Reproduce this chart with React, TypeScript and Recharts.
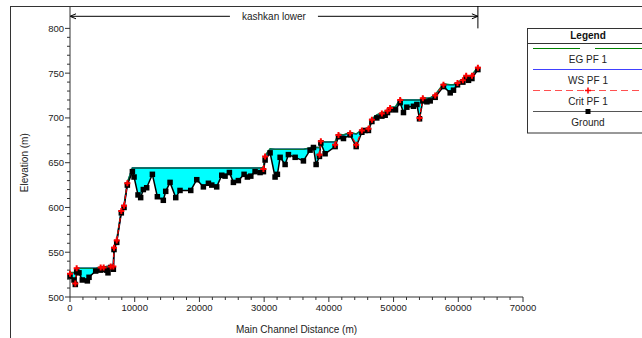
import React from 'react';
import {
  ComposedChart, Area, Line, XAxis, YAxis, ReferenceLine,
} from 'recharts';

// river stations (main channel distance, m)
const distance = [
  0, 620, 820, 1030, 1390, 1900, 2680, 2940, 3970, 4740,
  5200, 5670, 5870, 6290, 6700, 6800, 7220, 7930, 8350, 8860,
  9640, 9900, 10510, 10920, 11330, 11850, 12730, 13500, 14420, 14790,
  15460, 16340, 17000, 18660, 19590, 20610, 21390, 21910, 22670, 23450,
  23960, 24630, 25250, 26020, 26900, 27410, 27940, 28600, 29370, 29890,
  30150, 30920, 31690, 32050, 32470, 33240, 33750, 34790, 36070, 37100,
  37620, 38030, 38550, 38760, 39420, 40970, 41490, 42260, 43290, 44220,
  45100, 45610, 46120, 46650, 47410, 48190, 48700, 49060, 49470, 50300,
  51020, 51530, 52050, 53070, 53600, 54010, 54520, 55150, 55660, 56430,
  57710, 58750, 59260, 59880, 60710, 61220, 61580, 62110, 63030,
];

const ground = [
  523, 519, 514, 528, 527, 519, 518, 522, 529, 530,
  531, 530, 527, 533, 531, 553, 561, 594, 600, 625,
  640, 634, 614, 611, 620, 622, 637, 612, 608, 618,
  628, 611, 619, 619, 631, 623, 627, 625, 623, 636,
  635, 639, 628, 630, 637, 634, 635, 640, 639, 640,
  653, 661, 634, 637, 656, 648, 659, 656, 652, 664,
  667, 648, 657, 672, 660, 668, 679, 677, 681, 668,
  684, 686, 686, 696, 700, 702, 703, 706, 709, 709,
  717, 706, 712, 713, 715, 699, 719, 718, 719, 723,
  735, 728, 731, 737, 740, 744, 742, 744, 754,
];

const wsPF1 = [
  527, 527, 527, 532, 532, 532, 532, 532, 532, 533,
  533, 534, 534, 535, 534, 555, 563, 596, 602, 627,
  644, 644, 644, 644, 644, 644, 644, 644, 644, 644,
  644, 644, 644, 644, 644, 644, 644, 644, 644, 644,
  644, 644, 644, 644, 644, 644, 644, 644, 644, 644,
  657, 665, 665, 665, 665, 665, 665, 665, 665, 666,
  668, 667, 667, 674, 673, 673, 681, 681, 683, 682,
  686, 688, 688, 698, 703, 705, 706, 708, 711, 712,
  720, 720, 720, 720, 720, 720, 722, 722, 722, 725,
  737, 737, 737, 739, 742, 747, 746, 747, 756,
];

const egPF1 = [
  527.5, 527.5, 527.5, 532.5, 532, 532, 532, 532, 532, 533.5,
  533.5, 534, 534, 535.5, 535, 556, 564, 597, 603, 628,
  644, 644, 644, 644, 644, 644, 644, 644, 644, 644,
  644, 644, 644, 644, 644, 644, 644, 644, 644, 644,
  644, 644, 644, 644, 644, 644, 644, 644, 644, 644.5,
  658, 665.5, 665, 665, 665, 665, 665, 665, 665, 666.5,
  668.5, 667, 667, 675, 673, 673.5, 682, 681, 684, 682,
  687, 688, 688.5, 699, 703.5, 706, 706.5, 709, 712, 712.5,
  721, 720, 720, 720, 720, 720, 723, 722, 722.5, 726,
  738, 737, 737, 740, 743, 748, 746.5, 748, 757,
];

const critPF1: (number | null)[] = [
  526, null, 515, 532, null, null, null, null, null, 533,
  533, null, null, 534, 534, 555, 563, 596, 602, 627,
  null, null, null, null, null, null, null, null, null, null,
  null, null, null, null, null, null, null, null, null, null,
  null, null, null, null, null, null, null, null, null, 643,
  657, null, null, null, null, null, null, null, null, null,
  null, null, 659, 674, null, 670, 681, null, 683, 670,
  686, null, 688, 698, null, 705, null, 708, 711, null,
  720, null, null, null, null, 700, 722, null, null, 725,
  737, null, null, 739, 742, 747, null, 747, 756,
];

const xMajor = [0, 10000, 20000, 30000, 40000, 50000, 60000, 70000];
const xTicks = [
  0, 2000, 4000, 6000, 8000, 10000, 12000, 14000, 16000, 18000,
  20000, 22000, 24000, 26000, 28000, 30000, 32000, 34000, 36000, 38000,
  40000, 42000, 44000, 46000, 48000, 50000, 52000, 54000, 56000, 58000,
  60000, 62000, 64000, 66000, 68000, 70000,
];
const yMajor = [500, 550, 600, 650, 700, 750, 800];
const yTicks = [
  500, 510, 520, 530, 540, 550, 560, 570, 580, 590,
  600, 610, 620, 630, 640, 650, 660, 670, 680, 690,
  700, 710, 720, 730, 740, 750, 760, 770, 780, 790, 800,
];

const reachName = 'kashkan lower';
const reachStart = 0;
const reachEnd = 63030;

const data = distance.map((x, i) => ({
  x,
  ground: ground[i],
  ws: wsPF1[i],
  eg: egPF1[i],
  crit: critPF1[i],
}));

const FONT = '"Liberation Sans", Arial, sans-serif';
const INK = '#333';

const XTick = (props: any) => {
  const { x, y, payload } = props;
  const major = xMajor.includes(payload.value);
  return (
    <g>
      <line x1={x} x2={x} y1={y} y2={y + (major ? 5 : 3)} stroke={INK} />
      {major && (
        <text x={x} y={y + 14} textAnchor="middle" fontSize={9.5} fontFamily={FONT} fill="#222">
          {payload.value}
        </text>
      )}
    </g>
  );
};

const YTick = (props: any) => {
  const { x, y, payload } = props;
  const major = yMajor.includes(payload.value);
  return (
    <g>
      <line x1={x - (major ? 5 : 3)} x2={x} y1={y} y2={y} stroke={INK} />
      {major && (
        <text x={x - 6} y={y + 3.5} textAnchor="end" fontSize={9.5} fontFamily={FONT} fill="#222">
          {payload.value}
        </text>
      )}
    </g>
  );
};

const GroundDot = (props: any) => {
  const { cx, cy, index } = props;
  if (cx == null || cy == null) return <g key={`g${index}`} />;
  return <rect key={`g${index}`} x={cx - 2.75} y={cy - 2.75} width={5.5} height={5.5} fill="#000" />;
};

const CritDot = (props: any) => {
  const { cx, cy, index } = props;
  if (cx == null || cy == null || props.value == null) return <g key={`c${index}`} />;
  return (
    <path
      key={`c${index}`}
      d={`M${cx - 3},${cy}h6M${cx},${cy - 3}v6`}
      stroke="#ff0000"
      strokeWidth={2}
      fill="none"
    />
  );
};

// reach arrow with its name in a gap at the middle
const ReachArrow = (props: any) => {
  const { x1, y1, x2 } = props;
  const mid = (x1 + x2) / 2;
  const gap = 44;
  return (
    <g>
      <line x1={x1} y1={y1} x2={mid - gap} y2={y1} stroke="#000" />
      <line x1={mid + gap} y1={y1} x2={x2} y2={y1} stroke="#000" />
      <polyline points={`${x1 + 6},${y1 - 2.5} ${x1},${y1} ${x1 + 6},${y1 + 2.5}`} fill="none" stroke="#000" />
      <polyline points={`${x2 - 6},${y1 - 2.5} ${x2},${y1} ${x2 - 6},${y1 + 2.5}`} fill="none" stroke="#000" />
      <text x={mid} y={y1 + 3.5} textAnchor="middle" fontSize={10} fontFamily={FONT} fill="#222">
        {reachName}
      </text>
    </g>
  );
};

const legendItems = [
  { name: 'EG PF 1', color: '#008000', kind: 'eg' },
  { name: 'WS PF 1', color: '#4040ff', kind: 'ws' },
  { name: 'Crit PF 1', color: '#ff5050', kind: 'crit' },
  { name: 'Ground', color: '#555', kind: 'ground' },
];

const LegendBox = () => (
  <svg
    width={116}
    height={107}
    style={{ position: 'absolute', left: 527, top: 28 }}
  >
    <rect x={0.5} y={0.5} width={130} height={104.5} fill="#fff" stroke={INK} />
    <text x={61} y={11} textAnchor="middle" fontSize={10} fontWeight="bold" fontFamily={FONT} fill="#111">
      Legend
    </text>
    <line x1={0} x2={116} y1={15.5} y2={15.5} stroke={INK} />
    {legendItems.map((it, i) => {
      const ly = 20.5 + i * 21;
      return (
        <g key={it.name}>
          {it.kind === 'eg' ? (
            <>
              <line x1={6} x2={53} y1={ly} y2={ly} stroke={it.color} strokeWidth={1.2} />
              <line x1={68} x2={116} y1={ly} y2={ly} stroke={it.color} strokeWidth={1.2} />
            </>
          ) : (
            <line
              x1={6}
              x2={116}
              y1={ly}
              y2={ly}
              stroke={it.color}
              strokeWidth={1.2}
              strokeDasharray={it.kind === 'crit' ? '7 4' : undefined}
            />
          )}
          {it.kind === 'crit' && (
            <path d={`M${58},${ly}h6M${61},${ly - 3}v6`} stroke="#ff0000" strokeWidth={1.5} />
          )}
          {it.kind === 'ground' && <rect x={58.5} y={ly - 2.5} width={5} height={5} fill="#000" />}
          <text x={61} y={ly + 14.5} textAnchor="middle" fontSize={10} fontFamily={FONT} fill="#222">
            {it.name}
          </text>
        </g>
      );
    })}
  </svg>
);

const App: React.FC = () => {
  return (
    <div style={{ position: 'absolute', left: 0, top: 0, width: 642, height: 338, background: '#fff', overflow: 'hidden' }}>
      <div
        style={{
          position: 'absolute', left: 10, top: 6, width: 700, height: 331,
          border: `1px solid ${INK}`,
        }}
      />
      <ComposedChart
        width={642}
        height={338}
        data={data}
        margin={{ top: 6, right: 119, bottom: 0, left: 10 }}
        style={{ position: 'absolute', left: 0, top: 0 }}
      >
        <XAxis
          dataKey="x"
          type="number"
          domain={[0, 70000]}
          ticks={xTicks}
          interval={0}
          tickSize={0}
          tickMargin={0}
          tick={<XTick />}
          axisLine={{ stroke: INK }}
          height={41}
          label={{
            content: (p: any) => {
              const vb = p.viewBox;
              return (
                <text x={vb.x + vb.width / 2} y={vb.y + 35.5} textAnchor="middle" fontSize={10} fontFamily={FONT} fill="#222">
                  Main Channel Distance (m)
                </text>
              );
            },
          }}
        />
        <YAxis
          type="number"
          domain={[500, 825]}
          ticks={yTicks}
          interval={0}
          tickSize={0}
          tickMargin={0}
          tick={<YTick />}
          axisLine={{ stroke: INK }}
          width={60}
          label={{
            content: (p: any) => {
              const vb = p.viewBox;
              const cx = vb.x + 15;
              const cy = vb.y + vb.height * (1 - 150 / 325);
              return (
                <text
                  x={cx}
                  y={cy}
                  transform={`rotate(-90 ${cx} ${cy})`}
                  textAnchor="middle"
                  dominantBaseline="central"
                  fontSize={10}
                  fontFamily={FONT}
                  fill="#222"
                >
                  Elevation (m)
                </text>
              );
            },
          }}
        />
        <Area
          dataKey={(d: any) => [d.ground, d.ws]}
          type="linear"
          fill="#00ffff"
          fillOpacity={1}
          stroke="none"
          isAnimationActive={false}
        />
        <Line dataKey="ws" type="linear" stroke="#2020ff" strokeWidth={1.5} dot={false} isAnimationActive={false} />
        <Line dataKey="eg" type="linear" stroke="#007a3a" strokeWidth={1.5} dot={false} isAnimationActive={false} />
        <Line
          dataKey="ground"
          type="linear"
          stroke="#000"
          strokeWidth={1.5}
          dot={<GroundDot />}
          isAnimationActive={false}
        />
        <Line
          dataKey="crit"
          type="linear"
          stroke="#ff0000"
          strokeWidth={1.2}
          strokeDasharray="4 2"
          connectNulls={false}
          dot={<CritDot />}
          isAnimationActive={false}
        />
        <ReferenceLine
          segment={[{ x: reachStart, y: 813.5 }, { x: reachEnd, y: 813.5 }]}
          shape={<ReachArrow />}
        />
        <ReferenceLine
          segment={[{ x: reachEnd, y: 800 }, { x: reachEnd, y: 825 }]}
          stroke="#000"
        />
      </ComposedChart>
      <LegendBox />
    </div>
  );
};

export default App;
